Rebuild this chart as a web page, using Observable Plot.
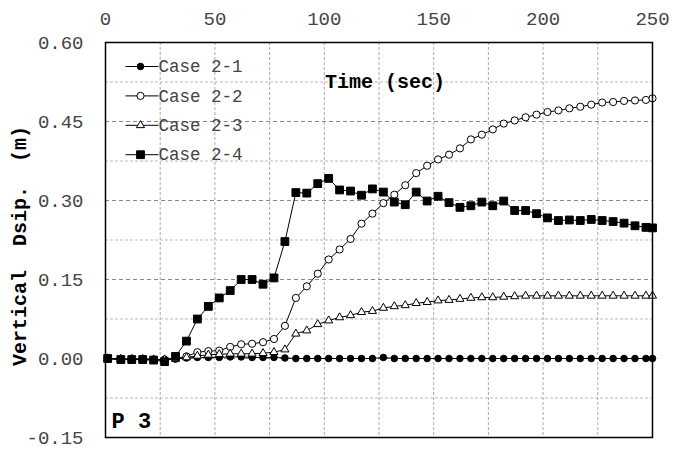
<!DOCTYPE html>
<html><head><meta charset="utf-8">
<script src="https://cdn.jsdelivr.net/npm/d3@7"></script>
<script src="https://cdn.jsdelivr.net/npm/@observablehq/plot@0.6"></script>
<style>body{margin:0;background:#fff}</style>
</head><body><div id="chart"></div>
<script>
const times = [1,7,12,17,22,27,32,37,42,47,52,57,62,67,72,77,82,87,92,97,102,107,112,117,122,127,132,137,142,147,152,157,162,167,172,177,182,187,192,197,202,207,212,217,222,227,232,237,242,247,250];
const case21 = [0.000,-0.002,-0.002,-0.002,-0.003,-0.003,-0.001,0.001,0.002,0.002,0.002,0.003,0.003,0.002,0.002,0.002,0.001,0.000,0.000,0.000,0.000,0.000,0.000,0.000,0.000,0.002,0.000,0.000,0.000,0.000,0.000,0.000,0.000,0.000,0.000,0.000,0.000,0.000,0.000,0.000,0.000,0.000,0.000,0.000,0.000,0.000,0.000,0.000,0.000,0.000,0.000];
const case22 = [0.000,-0.001,-0.001,-0.001,-0.002,-0.002,0.000,0.004,0.012,0.014,0.015,0.022,0.027,0.028,0.031,0.037,0.062,0.115,0.137,0.161,0.188,0.207,0.227,0.256,0.275,0.295,0.311,0.329,0.352,0.366,0.378,0.387,0.399,0.416,0.425,0.435,0.446,0.452,0.458,0.463,0.468,0.471,0.475,0.478,0.482,0.486,0.487,0.489,0.490,0.491,0.494];
const case23 = [0.000,-0.001,-0.001,-0.001,-0.002,-0.002,-0.001,0.002,0.005,0.007,0.008,0.009,0.009,0.009,0.010,0.012,0.017,0.047,0.053,0.065,0.072,0.078,0.082,0.088,0.090,0.096,0.099,0.101,0.105,0.107,0.110,0.111,0.113,0.115,0.116,0.116,0.117,0.118,0.119,0.119,0.119,0.119,0.119,0.119,0.119,0.119,0.119,0.119,0.119,0.119,0.119];
const case24 = [0.000,-0.002,-0.002,-0.002,-0.003,-0.006,0.004,0.033,0.075,0.099,0.115,0.129,0.150,0.150,0.141,0.153,0.222,0.315,0.314,0.332,0.342,0.320,0.318,0.310,0.322,0.316,0.297,0.292,0.316,0.299,0.308,0.296,0.287,0.290,0.297,0.290,0.299,0.281,0.281,0.275,0.267,0.262,0.263,0.262,0.264,0.262,0.260,0.257,0.252,0.249,0.248];
const seriesNames = ["Case 2-1","Case 2-2","Case 2-3","Case 2-4"];
const seriesValues = [case21, case22, case23, case24];
const xTicks = [0,50,100,150,200,250];
const yTicks = [-0.15,0,0.15,0.30,0.45,0.60];
const xGrid = [25,50,75,100,125,150,175,200,225];
const yGridMajor = [0,0.15,0.30,0.45];
const yGridMinor = [-0.075,0.075,0.225,0.375,0.525];
const xTitle = "Time (sec)";
const yTitle = "Vertical\u00A0\u00A0Dsip.\u00A0\u00A0(m)";
const panelLabel = "P 3";

const styles = [
  {symbol:"circle", r:3.3, fill:"black"},
  {symbol:"circle", r:3.6, fill:"white"},
  {symbol:"triangle", r:3.0, fill:"white"},
  {symbol:"square", r:4.4, fill:"black"}
];
const segSymbol = {draw(ctx){ ctx.moveTo(-15,0); ctx.lineTo(18,0); }};

const tables = seriesValues.map(vals => times.map((t,i)=>({t, v: vals[i]})));

const marks = [
  Plot.ruleX(xGrid, {stroke:"#aaa", strokeDasharray:"3,2", strokeWidth:1}),
  Plot.ruleY(yGridMinor, {stroke:"#bbb", strokeDasharray:"3,2", strokeWidth:1}),
  Plot.ruleY(yGridMajor, {stroke:"#888", strokeDasharray:"4,3", strokeWidth:1}),
];
tables.forEach((tab,k)=>{
  marks.push(Plot.line(tab, {x:"t", y:"v", stroke:"black", strokeWidth:1}));
});
tables.forEach((tab,k)=>{
  const s = styles[k];
  marks.push(Plot.dot(tab, {x:"t", y:"v", symbol:s.symbol, r:s.r, fill:s.fill, stroke:"black", strokeWidth:1}));
});
seriesNames.forEach((name,k)=>{
  const s = styles[k];
  const dy = 24 + k*29.4;
  marks.push(Plot.dot([0], {frameAnchor:"top-left", dx:35, dy, symbol:segSymbol, r:1, fill:"none", stroke:"black", strokeWidth:1}));
  marks.push(Plot.dot([0], {frameAnchor:"top-left", dx:35, dy, symbol:s.symbol, r:s.r, fill:s.fill, stroke:"black", strokeWidth:1}));
  marks.push(Plot.text([name], {frameAnchor:"top-left", dx:53, dy, text:d=>d, textAnchor:"start", lineAnchor:"middle", fontSize:17.5, fill:"#444"}));
});
marks.push(Plot.text([xTitle], {frameAnchor:"top", dx:6, dy:39, text:d=>d, textAnchor:"middle", lineAnchor:"middle", fontSize:20, fontWeight:"bold", fill:"black"}));
marks.push(Plot.text([yTitle], {frameAnchor:"left", dx:-86, dy:6, text:d=>d, rotate:-90, textAnchor:"middle", lineAnchor:"middle", fontSize:20, fontWeight:"bold", fill:"black"}));
marks.push(Plot.text([panelLabel], {frameAnchor:"bottom-left", dx:6, dy:-17, text:d=>d, textAnchor:"start", lineAnchor:"middle", fontSize:22, fontWeight:"bold", fill:"black"}));
marks.push(Plot.axisX(xTicks, {anchor:"top", tickSize:0, tickPadding:18, label:null, fill:"#444"}));
marks.push(Plot.axisY(yTicks, {anchor:"left", tickSize:0, tickPadding:22, label:null, tickFormat:d=>d.toFixed(2), fill:"#444"}));
marks.push(Plot.frame({stroke:"black", strokeWidth:1.5}));

const chart = Plot.plot({
  width:687, height:449,
  marginLeft:105, marginRight:35, marginTop:42, marginBottom:12,
  x:{domain:[0,250], label:null},
  y:{domain:[-0.15,0.60], label:null},
  style:{fontFamily:"Liberation Mono", fontSize:"19px", background:"white", overflow:"visible"},
  marks
});
document.getElementById("chart").appendChild(chart);
</script>
</body></html>
